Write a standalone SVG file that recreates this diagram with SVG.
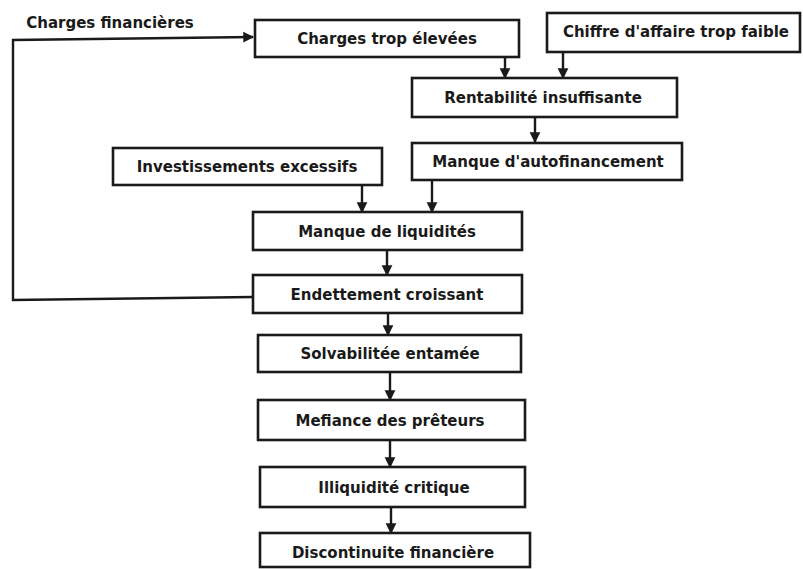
<svg xmlns="http://www.w3.org/2000/svg" width="803" height="569" viewBox="0 0 803 569">
<defs>
<style>
.box{fill:#fff;stroke:#1a1a1a;stroke-width:2.6}
.t{font-family:"DejaVu Sans",sans-serif;font-weight:bold;font-size:15px;fill:#1a1a1a;text-anchor:middle}
.c{fill:none;stroke:#1a1a1a;stroke-width:2.4}
</style>
<marker id="ah" viewBox="0 0 10 10" refX="9" refY="5" markerWidth="4.5" markerHeight="5" orient="auto" markerUnits="strokeWidth">
<path d="M0,0 L10,5 L0,10 Z" fill="#1a1a1a"/>
</marker>
</defs>
<rect width="803" height="569" fill="#fff"/>
<g id="connectors">
<path class="c" d="M253,297 L13,300 L13,40 L253,37" marker-end="url(#ah)"/>
<path class="c" d="M505,57 L505,78" marker-end="url(#ah)"/>
<path class="c" d="M563,52 L563,78" marker-end="url(#ah)"/>
<path class="c" d="M535,117 L535,142" marker-end="url(#ah)"/>
<path class="c" d="M362,185 L362,212" marker-end="url(#ah)"/>
<path class="c" d="M432,180 L432,212" marker-end="url(#ah)"/>
<path class="c" d="M387,250 L387,275" marker-end="url(#ah)"/>
<path class="c" d="M388,313 L388,335" marker-end="url(#ah)"/>
<path class="c" d="M390,372 L390,400" marker-end="url(#ah)"/>
<path class="c" d="M390,440 L390,467" marker-end="url(#ah)"/>
<path class="c" d="M391,507 L391,533" marker-end="url(#ah)"/>
</g>
<text class="t" x="110" y="28">Charges financières</text>
<g id="n1"><rect class="box" x="255" y="20" width="264" height="37"/><text class="t" x="387" y="44">Charges trop élevées</text></g>
<g id="n2"><rect class="box" x="547" y="13" width="253" height="39"/><text class="t" x="676" y="37">Chiffre d'affaire trop faible</text></g>
<g id="n3"><rect class="box" x="412" y="78" width="265" height="39"/><text class="t" x="543" y="103">Rentabilité insuffisante</text></g>
<g id="n4"><rect class="box" x="412" y="143" width="270" height="37"/><text class="t" x="548" y="167">Manque d'autofinancement</text></g>
<g id="n5"><rect class="box" x="113" y="148" width="269" height="37"/><text class="t" x="247" y="172">Investissements excessifs</text></g>
<g id="n6"><rect class="box" x="253" y="212" width="269" height="38"/><text class="t" x="387" y="237">Manque de liquidités</text></g>
<g id="n7"><rect class="box" x="253" y="275" width="269" height="38"/><text class="t" x="387" y="300">Endettement croissant</text></g>
<g id="n8"><rect class="box" x="258" y="335" width="263" height="37"/><text class="t" x="390" y="359">Solvabilitée entamée</text></g>
<g id="n9"><rect class="box" x="258" y="400" width="267" height="40"/><text class="t" x="390" y="426">Mefiance des prêteurs</text></g>
<g id="n10"><rect class="box" x="260" y="467" width="265" height="40"/><text class="t" x="394" y="493">Illiquidité critique</text></g>
<g id="n11"><rect class="box" x="260" y="533" width="270" height="34"/><text class="t" x="393" y="558">Discontinuite financière</text></g>
</svg>
